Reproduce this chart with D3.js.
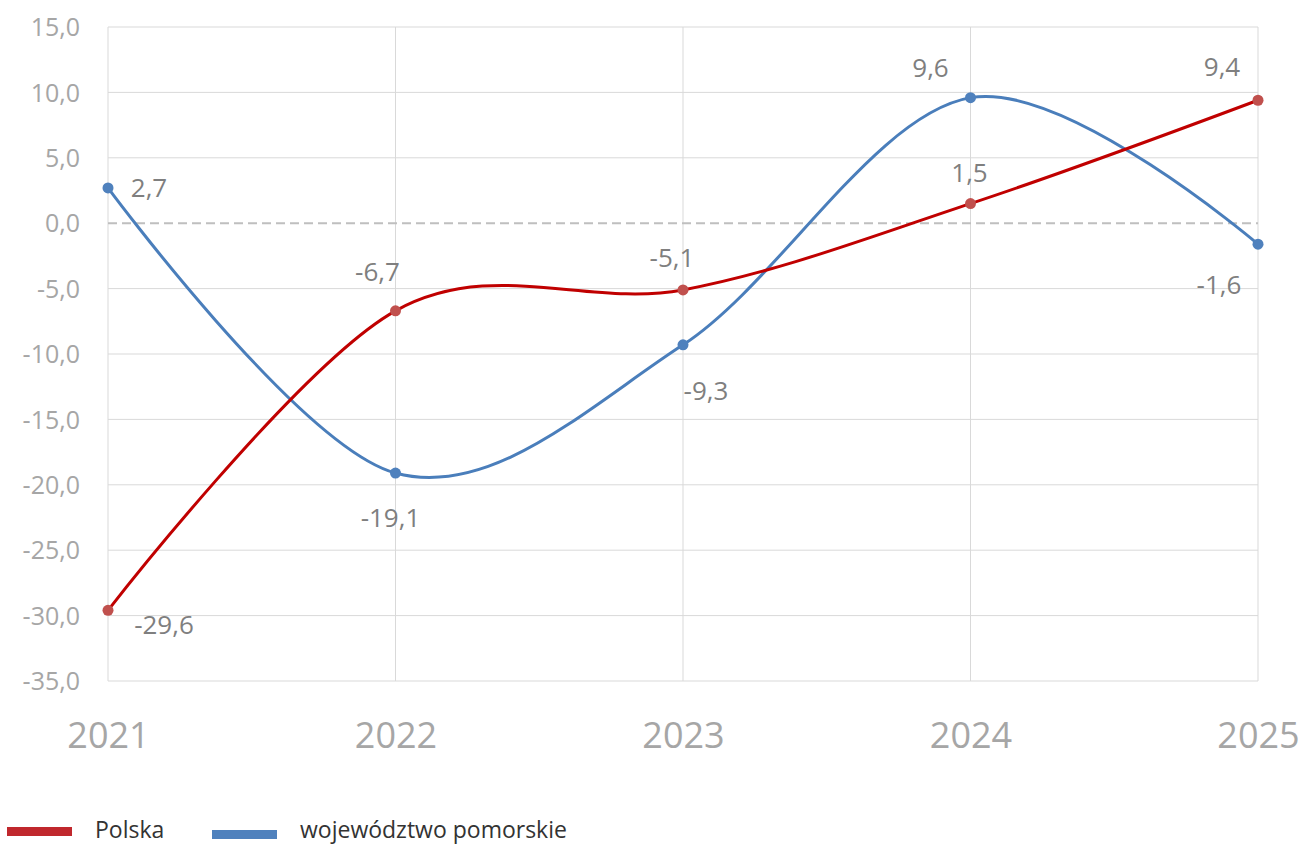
<!DOCTYPE html>
<html><head><meta charset="utf-8">
<script src="https://cdn.jsdelivr.net/npm/d3@7"></script>
<style>
body{margin:0;background:#fff;}
svg{display:block;font-family:"Open Sans",sans-serif;}
</style></head>
<body>
<svg id="c" width="1303" height="844"></svg>
<script>
const years = ["2021","2022","2023","2024","2025"];
const polska = [-29.6, -6.7, -5.1, 1.5, 9.4];
const pomorskie = [2.7, -19.1, -9.3, 9.6, -1.6];
const yTicks = [15,10,5,0,-5,-10,-15,-20,-25,-30,-35];
const seriesNames = ["Polska","województwo pomorskie"];

const svg = d3.select("#c");
const x = d3.scalePoint().domain(years).range([108,1258]);
const y = d3.scaleLinear().domain([-35,15]).range([681,27]);
const fmt = v => d3.format(".1f")(v).replace(".",",").replace("−","-");

// horizontal grid
svg.append("g").selectAll("line").data(yTicks.filter(t=>t!==0)).join("line")
  .attr("x1",108).attr("x2",1258).attr("y1",d=>y(d)).attr("y2",d=>y(d))
  .attr("stroke","#d9d9d9").attr("stroke-width",1);
// vertical grid
svg.append("g").selectAll("line").data(years).join("line")
  .attr("x1",d=>x(d)).attr("x2",d=>x(d)).attr("y1",y(15)).attr("y2",y(-35))
  .attr("stroke","#d9d9d9").attr("stroke-width",1);
// zero dashed
svg.append("line").attr("x1",108).attr("x2",1258).attr("y1",y(0)).attr("y2",y(0))
  .attr("stroke","#bfbfbf").attr("stroke-width",2).attr("stroke-dasharray","9,5");

// y axis labels
const ya = svg.append("g").attr("transform","translate(80,0)")
  .call(d3.axisLeft(y).tickValues(yTicks).tickSize(0).tickPadding(0).tickFormat(fmt));
ya.select(".domain").remove();
ya.selectAll("text").attr("font-size",25).attr("fill","#a6a6a6").attr("font-family","Open Sans").attr("dy","0.35em");

// x axis labels
const xa = svg.append("g").attr("transform","translate(0,722)")
  .call(d3.axisBottom(x).tickSize(0).tickPadding(0));
xa.select(".domain").remove();
xa.selectAll("text").attr("font-size",36).attr("fill","#a6a6a6").attr("font-family","Open Sans").attr("dy","0.71em");

const line = d3.line().x((d,i)=>x(years[i])).y(d=>y(d)).curve(d3.curveCardinal.tension(0));

svg.append("path").attr("d",line(pomorskie)).attr("fill","none").attr("stroke","#4a7ebb").attr("stroke-width",3);
svg.append("path").attr("d",line(polska)).attr("fill","none").attr("stroke","#c00000").attr("stroke-width",3);

svg.append("g").selectAll("circle").data(pomorskie).join("circle")
  .attr("cx",(d,i)=>x(years[i])).attr("cy",d=>y(d)).attr("r",5.5).attr("fill","#4f81bd");
svg.append("g").selectAll("circle").data(polska).join("circle")
  .attr("cx",(d,i)=>x(years[i])).attr("cy",d=>y(d)).attr("r",5.5).attr("fill","#c0504d");

// data labels (offsets relative to point)
const offRed = [[56,15],[-18,-39],[-11,-32],[-1,-31],[-36,-33]];
const offBlue = [[41,0],[-5,45],[23,46],[-40,-30],[-39,41]];
function labels(vals, offs){
  svg.append("g").selectAll("text").data(vals).join("text")
    .attr("x",(d,i)=>x(years[i])+offs[i][0]).attr("y",(d,i)=>y(d)+offs[i][1])
    .attr("text-anchor","middle").attr("dy","0.35em")
    .attr("font-size",26).attr("fill","#7f7f7f").text(d=>fmt(d));
}
labels(polska, offRed);
labels(pomorskie, offBlue);

// legend
const legend = [{name:seriesNames[0],color:"#c0282d",x:7,ry:827,tx:95},{name:seriesNames[1],color:"#4f81bd",x:212,ry:830,tx:300}];
const lg = svg.append("g");
legend.forEach(l=>{
  lg.append("rect").attr("x",l.x).attr("y",l.ry).attr("width",65).attr("height",9).attr("fill",l.color);
  lg.append("text").attr("x",l.tx).attr("y",838).attr("font-size",23).attr("fill","#333").text(l.name);
});
</script>
</body></html>
